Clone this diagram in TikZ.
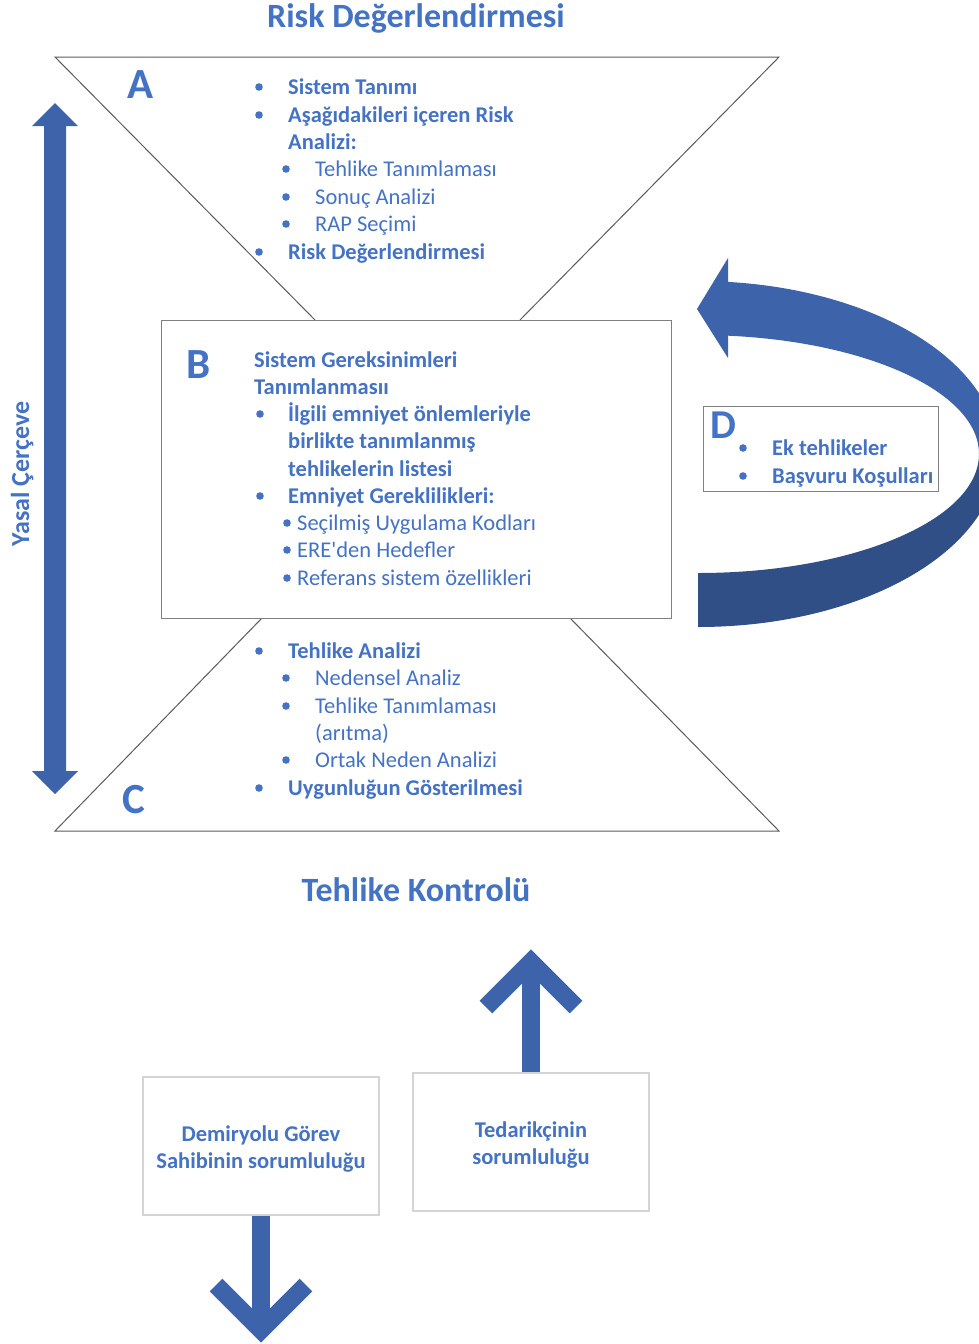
\documentclass[tikz,border=0pt]{standalone}
\usepackage{fontspec}
\setmainfont{Carlito}
\definecolor{tblue}{RGB}{68,114,196}
\definecolor{ablue}{RGB}{61,99,170}
\definecolor{dblue}{RGB}{47,79,134}
\definecolor{linegray}{RGB}{90,90,90}
\definecolor{boxgray}{RGB}{128,128,128}
\definecolor{palegray}{RGB}{212,212,212}
\newcommand\dotat[2]{\fill[tblue] (#1,#2) circle (3.8pt);}
\begin{document}
\begin{tikzpicture}[x=1pt,y=-1pt,
  every node/.style={inner sep=0pt, text=tblue},
  item/.style={anchor=base west, font=\fontsize{22.5}{27}\selectfont},
  bitem/.style={anchor=base west, font=\fontsize{22.5}{27}\selectfont\bfseries},
  letter/.style={anchor=base west, font=\fontsize{43}{43}\selectfont\bfseries},
  heading/.style={anchor=base, font=\fontsize{34}{40}\selectfont\bfseries},
  frame/.style={draw=boxgray, line width=1.2pt, fill=white, anchor=north west},
  rolebox/.style={draw=palegray, line width=1.2pt, fill=white,
    minimum width=236pt, minimum height=138pt},
  roletext/.style={align=center, font=\fontsize{22.5}{27}\selectfont\bfseries},
  thick arrow/.style={draw=ablue, line width=18pt},
]
\useasboundingbox (0,0) rectangle (979,1344);
\clip (0,0) rectangle (979,1344);

% headings
\node[heading] (risk) at (416,27.5) {Risk Değerlendirmesi};
\node[heading] (control) at (416,901) {Tehlike Kontrolü};

% hourglass outline
\draw[linegray, line width=1pt] (315,320) -- (55,57) -- (779,57) -- (520,320);
\draw[linegray, line width=1pt] (262,618) -- (55,831) -- (779,831) -- (570,618);

% central box
\node[frame, minimum width=510pt, minimum height=298pt] (boxB) at (161,320) {};

% legal framework double arrow
\fill[ablue] (55,103) -- (78,126) -- (66,126) -- (66,771) -- (78,771) -- (55,794)
  -- (32,771) -- (44,771) -- (44,126) -- (32,126) -- cycle;
\node[rotate=90, anchor=base, font=\fontsize{26}{30}\selectfont\bfseries] (legal)
  at (29,474) {Yasal Çerçeve};

% feedback arrow, upper (light) part with head
\fill[ablue] (728,281.9)
  arc[start angle=84.26, end angle=-3, x radius=300pt, y radius=173pt]
  -- ({698+281*cos(3)},{454+119*sin(3)})
  arc[start angle=-3, end angle=83.87, x radius=281pt, y radius=119pt]
  -- (728,358) -- (697,309) -- (728,258) -- cycle;
% feedback arrow, lower (dark) part
\fill[dblue] ({698+300*cos(3)},{454+173*sin(3)})
  arc[start angle=-3, end angle=-90, x radius=300pt, y radius=173pt]
  -- (698,573)
  arc[start angle=-90, end angle=-3, x radius=281pt, y radius=119pt]
  -- cycle;

% block A
\node[letter] (A) at (127,98) {A};
\dotat{259}{87}  \node[bitem] (a1) at (288,94) {Sistem Tanımı};
\dotat{259}{115} \node[bitem] (a2) at (288,122) {Aşağıdakileri içeren Risk};
\node[bitem] (a3) at (288,149) {Analizi:};
\dotat{286}{169} \node[item] (a4) at (315,176) {Tehlike Tanımlaması};
\dotat{286}{197} \node[item] (a5) at (315,204) {Sonuç Analizi};
\dotat{286}{224} \node[item] (a6) at (315,231) {RAP Seçimi};
\dotat{259}{252} \node[bitem] (a7) at (288,259) {Risk Değerlendirmesi};

% block B
\node[letter] (B) at (186,378) {B};
\node[bitem] (b1) at (254,367) {Sistem Gereksinimleri};
\node[bitem] (b2) at (254,394) {Tanımlanmasıı};
\dotat{260}{414} \node[bitem] (b3) at (288,421) {İlgili emniyet önlemleriyle};
\node[bitem] (b4) at (288,448.5) {birlikte tanımlanmış};
\node[bitem] (b5) at (288,476) {tehlikelerin listesi};
\dotat{260}{496} \node[bitem] (b6) at (288,503) {Emniyet Gereklilikleri:};
\dotat{287}{523} \node[item] (b7) at (297,530) {Seçilmiş Uygulama Kodları};
\dotat{287}{550} \node[item] (b8) at (297,557) {ERE\textquotesingle den Hedefler};
\dotat{287}{578} \node[item] (b9) at (297,585) {Referans sistem özellikleri};

% block C
\node[letter] (C) at (122,813) {C};
\dotat{259}{651} \node[bitem] (c1) at (288,658) {Tehlike Analizi};
\dotat{286}{678} \node[item] (c2) at (315,685) {Nedensel Analiz};
\dotat{286}{706} \node[item] (c3) at (315,713) {Tehlike Tanımlaması};
\node[item] (c4) at (315,740) {(arıtma)};
\dotat{286}{760} \node[item] (c5) at (315,767) {Ortak Neden Analizi};
\dotat{259}{788} \node[bitem] (c6) at (288,795) {Uygunluğun Gösterilmesi};

% block D
\node[frame, line width=1pt, minimum width=235pt, minimum height=85pt] (boxD) at (703,406) {};
\node[letter, font=\fontsize{41}{41}\selectfont\bfseries] (D) at (710,438) {D};
\dotat{743}{448} \node[bitem] (d1) at (772,455) {Ek tehlikeler};
\dotat{743}{476} \node[bitem] (d2) at (772,483) {Başvuru Koşulları};

% responsibilities
\node[rolebox] (owner) at (261,1146) {};
\node[roletext] (ownertext) at (261,1148.5) {Demiryolu Görev\\Sahibinin sorumluluğu};
\node[rolebox] (supplier) at (531,1142) {};
\node[roletext] (suppliertext) at (531,1144.5) {Tedarikçinin\\sorumluluğu};

\coordinate (dntip) at (261,1330);
\coordinate (uptip) at (531,962);
\draw[thick arrow] (owner.south) -- (dntip);
\draw[thick arrow, line join=miter] (216,1285) -- (dntip) -- (306,1285);
\draw[thick arrow] (supplier.north) -- (uptip);
\draw[thick arrow, line join=miter] (486,1007) -- (uptip) -- (576,1007);
\end{tikzpicture}
\end{document}
